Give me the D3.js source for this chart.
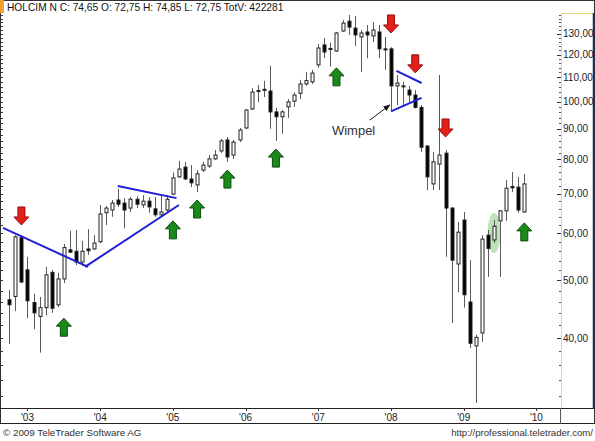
<!DOCTYPE html>
<html>
<head>
<meta charset="utf-8">
<script src="https://cdn.jsdelivr.net/npm/d3@7"></script>
<style>
body{margin:0;background:#fff;}
svg{display:block;font-family:"Liberation Sans",Arial,sans-serif;}
</style>
</head>
<body>
<svg id="svg" width="595" height="441"></svg>
<script>
// monthly candles, Oct 2002 .. Nov 2009 (index 0 = Oct 2002)
const openP =[46.4,47.0,59.0,52.1,45.9,43.5,45.0,51.6,45.5,50.3,56.3,56.0,53.7,56.5,56.5,58.1,65.0,65.7,68.3,67.5,66.2,68.5,67.0,68.0,66.0,64.5,65.7,69.9,74.7,77.6,74.1,72.4,76.7,77.9,80.1,82.6,86.2,81.3,86.2,90.3,97.2,104.4,104.9,104.2,96.1,94.3,98.0,100.2,103.3,107.1,108.0,115.3,124.6,122.9,121.7,131.5,136.6,133.0,128.5,131.0,129.0,131.0,122.7,122.7,106.3,106.3,104.6,102.6,97.8,84.2,72.7,78.5,81.9,66.2,53.3,63.2,46.0,38.8,40.8,59.6,58.5,63.0,65.5,72.0,71.8,65.2];
const highP =[48.2,59.6,59.6,54.8,47.5,46.9,52.7,52.1,51.5,57.6,60.6,60.8,58.3,61.0,59.6,67.0,66.7,68.3,71.3,68.8,69.1,69.3,69.6,69.1,69.1,69.6,69.6,76.0,79.5,79.2,78.2,76.7,79.2,81.3,82.9,86.6,87.2,86.2,90.3,97.2,105.4,106.7,108.4,114.9,97.6,96.8,101.0,103.6,108.8,112.2,113.1,125.1,128.0,125.6,131.0,137.2,139.9,139.4,132.0,134.6,136.1,134.6,128.5,123.5,110.9,108.0,106.3,104.6,98.7,84.5,82.3,110.9,82.9,66.5,62.7,65.2,54.1,40.5,59.6,60.8,63.2,65.7,73.8,76.1,74.7,75.6];
const lowP  =[39.1,44.4,49.5,43.2,41.4,37.8,43.7,44.1,45.1,49.5,55.6,53.1,52.9,55.2,56.3,57.8,62.0,64.0,66.5,61.2,65.2,66.2,66.2,65.0,64.0,64.0,65.2,69.6,74.4,73.8,71.8,70.4,76.1,77.3,79.8,82.0,79.2,80.1,85.5,89.9,96.8,99.8,101.8,90.0,85.9,88.3,93.9,98.0,101.0,106.3,107.1,114.0,118.3,114.5,121.2,131.0,129.5,124.1,112.2,118.3,126.0,118.3,113.1,96.4,98.7,98.7,99.8,97.4,82.3,71.0,71.0,71.0,54.8,42.4,47.8,45.0,38.5,31.1,39.4,50.7,57.8,50.7,63.0,70.4,65.0,65.0];
const closeP=[45.5,59.2,49.7,46.2,44.1,45.0,51.1,44.9,50.3,56.8,55.8,53.7,56.0,56.1,57.8,64.7,66.2,67.5,67.2,65.7,68.5,67.2,68.0,66.5,64.5,65.2,68.5,74.4,77.0,74.1,73.0,75.6,78.2,80.1,81.3,85.9,80.7,85.5,89.6,96.8,103.8,104.0,104.5,96.1,94.3,96.1,99.9,102.6,107.1,108.5,111.7,123.1,121.2,122.4,130.5,135.6,133.5,129.5,130.5,129.5,132.0,122.7,122.2,106.3,107.5,105.9,102.6,97.8,83.8,74.7,79.2,81.3,66.2,54.1,60.3,47.3,39.2,40.1,58.7,56.6,61.7,65.5,71.5,71.6,65.7,72.7];

const yearLabels=["'03","'04","'05","'06","'07","'08","'09","'10"];
const yearIndex=[3,15,27,39,51,63,75,87];
const priceTicks=[40,50,60,70,80,90,100,110,120,130];
const minorTicks=d3.range(32,141,2);

// signals: [month index, price at arrow tip]
const buySignals=[[9,43.2],[27,63.0],[31,68.3],[36,76.7],[44,83.2],[54,114.0],[85,62.5]];
const sellSignals=[[2,62.0],[63,130.5],[67,111.8],[72,87.2]];
// drawn trend lines: [[index,price],[index,price]]
const trendLines=[
  [[-1.04,61.3],[13.0,52.7]],
  [[12.5,52.7],[28.0,67.0]],
  [[17.9,72.1],[27.6,68.8]],
  [[63.9,112.7],[68.05,107.5]],
  [[63.0,96.3],[68.05,101.5]]
];
const wimpelText=[53.25,87.9];
const wimpelPointer=[[59.5,93.1],[62.8,98.7]];
const highlight=[80,60.1];

const headerText="HOLCIM N C: 74,65 O: 72,75 H: 74,85 L: 72,75 TotV: 422281";

const plotLeft=1, plotRight=560, plotTop=13, plotBottom=408;
const svg=d3.select("#svg");

var x=d3.scaleLinear().domain([0,85]).range([9.3,524.3]);
var y=d3.scaleLog().domain([30.5,141.0]).range([plotBottom,plotTop]);

var candles=openP.map((o,i)=>({i:i,o:o,h:highP[i],l:lowP[i],c:closeP[i]}));

// frame + panels
svg.append("rect").attr("x",0.5).attr("y",0.5).attr("width",594).attr("height",423)
    .attr("fill","none").attr("stroke","#333");
svg.append("rect").attr("x",0).attr("y",0).attr("width",4).attr("height",13).attr("fill","#f0a030");
svg.append("line").attr("x1",0).attr("x2",595).attr("y1",408.5).attr("y2",408.5).attr("stroke","#222");
svg.append("line").attr("x1",0).attr("x2",595).attr("y1",423.5).attr("y2",423.5).attr("stroke","#222");
svg.append("line").attr("x1",560.5).attr("x2",560.5).attr("y1",408).attr("y2",424).attr("stroke","#555");
// right axis panel
svg.append("line").attr("x1",561.5).attr("x2",561.5).attr("y1",13).attr("y2",408).attr("stroke","#e8d878");
svg.append("line").attr("x1",561).attr("x2",594).attr("y1",13.5).attr("y2",13.5).attr("stroke","#e8d878");
svg.append("line").attr("x1",593.5).attr("x2",593.5).attr("y1",13).attr("y2",408).attr("stroke","#1c2a66").attr("stroke-width",1.5);

// header
svg.append("text").attr("x",7).attr("y",10.5).attr("font-size","10.2px").attr("fill","#111")
    .text(headerText);

// left edge ticks
svg.append("g").selectAll("line").data(minorTicks).enter().append("line")
    .attr("x1",0).attr("x2",3)
    .attr("y1",d=>Math.round(y(d))+0.5).attr("y2",d=>Math.round(y(d))+0.5)
    .attr("stroke","#333");

// right axis
var ax=svg.append("g");
ax.selectAll(".minor").data(minorTicks).enter().append("line")
    .attr("x1",559).attr("x2",561)
    .attr("y1",d=>Math.round(y(d))+0.5).attr("y2",d=>Math.round(y(d))+0.5)
    .attr("stroke","#555");
ax.selectAll(".major").data(priceTicks).enter().append("line")
    .attr("x1",557).attr("x2",561)
    .attr("y1",d=>Math.round(y(d))+0.5).attr("y2",d=>Math.round(y(d))+0.5)
    .attr("stroke","#333");
ax.selectAll("text").data(priceTicks).enter().append("text")
    .attr("x",563).attr("y",d=>y(d)+3.5)
    .attr("font-size","10px").attr("fill","#222")
    .text(d=>d3.format(".2f")(d).replace(".",","));

// x axis band
var xa=svg.append("g");
xa.selectAll("line").data(yearIndex).enter().append("line")
    .attr("x1",d=>Math.round(x(d))+0.5).attr("x2",d=>Math.round(x(d))+0.5)
    .attr("y1",408).attr("y2",411).attr("stroke","#333");
xa.selectAll("text").data(yearLabels).enter().append("text")
    .attr("x",(d,i)=>x(yearIndex[i])).attr("y",420.5)
    .attr("text-anchor","middle").attr("font-size","10px").attr("fill","#222")
    .text(d=>d);

// footer
svg.append("text").attr("x",3).attr("y",436).attr("font-size","9.8px").attr("fill","#333")
    .text("\u00a9 2009 TeleTrader Software AG");
svg.append("text").attr("x",593).attr("y",436).attr("font-size","9.6px").attr("fill","#333")
    .attr("text-anchor","end").text("http://professional.teletrader.com/");

var plot=svg.append("g");

// highlight ellipse
plot.append("ellipse")
    .attr("cx",x(highlight[0])).attr("cy",y(highlight[1]))
    .attr("rx",6.5).attr("ry",20)
    .attr("fill","#a9d8a2").attr("opacity",0.75);

// wicks
plot.selectAll(".wick").data(candles).enter().append("line")
    .attr("x1",d=>Math.round(x(d.i))+0.5).attr("x2",d=>Math.round(x(d.i))+0.5)
    .attr("y1",d=>y(d.h)).attr("y2",d=>y(d.l))
    .attr("stroke","#5a5a5a");
// bodies
plot.selectAll(".body").data(candles).enter().append("rect")
    .attr("x",d=>Math.round(x(d.i))-1)
    .attr("y",d=>y(Math.max(d.o,d.c)))
    .attr("width",3)
    .attr("height",d=>Math.max(1,y(Math.min(d.o,d.c))-y(Math.max(d.o,d.c))))
    .attr("fill",d=>d.c>=d.o?"#fff":"#000")
    .attr("stroke","#222").attr("stroke-width",1);

// trend lines
plot.selectAll(".trend").data(trendLines).enter().append("line")
    .attr("x1",d=>x(d[0][0])).attr("y1",d=>y(d[0][1]))
    .attr("x2",d=>x(d[1][0])).attr("y2",d=>y(d[1][1]))
    .attr("stroke","#1f1fd8").attr("stroke-width",2);

// signal arrows
const arrowPath="M0,0L7.5,8L3.5,8L3.5,18L-3.5,18L-3.5,8L-7.5,8Z";
plot.selectAll(".buy").data(buySignals).enter().append("path")
    .attr("d",arrowPath)
    .attr("transform",d=>"translate("+x(d[0])+","+y(d[1])+")")
    .attr("fill","#1b8a1b").attr("stroke","#0c4a0c");
plot.selectAll(".sell").data(sellSignals).enter().append("path")
    .attr("d",arrowPath)
    .attr("transform",d=>"translate("+x(d[0])+","+y(d[1])+") scale(1,-1)")
    .attr("fill","#e4201a").attr("stroke","#8c1010");

// Wimpel annotation
svg.append("defs").append("marker").attr("id","ah")
    .attr("viewBox","0 0 10 10").attr("refX",9).attr("refY",5)
    .attr("markerWidth",7).attr("markerHeight",7).attr("orient","auto")
    .append("path").attr("d","M0,1L10,5L0,9Z").attr("fill","#111");
plot.append("line")
    .attr("x1",x(wimpelPointer[0][0])).attr("y1",y(wimpelPointer[0][1]))
    .attr("x2",x(wimpelPointer[1][0])).attr("y2",y(wimpelPointer[1][1]))
    .attr("stroke","#111").attr("stroke-width",1).attr("marker-end","url(#ah)");
plot.append("text")
    .attr("x",x(wimpelText[0])).attr("y",y(wimpelText[1]))
    .attr("font-size","13px").attr("fill","#333")
    .text("Wimpel");
</script>
</body>
</html>
